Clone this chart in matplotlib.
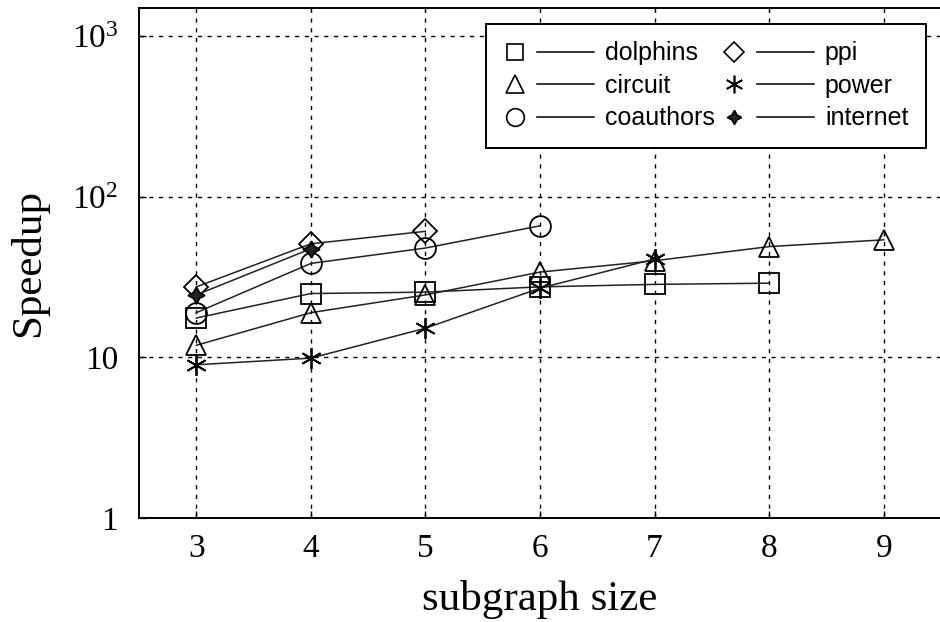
import matplotlib
matplotlib.use("Agg")
import matplotlib.pyplot as plt
from matplotlib.lines import Line2D
from matplotlib.legend_handler import HandlerBase
from matplotlib.ticker import FixedLocator, NullLocator

# ---- data ----
x_dolphins = [3, 4, 5, 6, 7, 8]
y_dolphins = [17.6, 25, 25.5, 27.5, 28.5, 29]
x_circuit = [3, 4, 5, 6, 7, 8, 9]
y_circuit = [11.9, 19, 24.5, 34, 40, 49, 54]
x_coauthors = [3, 4, 5, 6]
y_coauthors = [19, 38.5, 48, 66]
x_ppi = [3, 4, 5]
y_ppi = [27.5, 51, 61]
x_power = [3, 4, 5, 6, 7]
y_power = [9, 9.9, 15.2, 27, 41]
x_internet = [3, 4]
y_internet = [24.5, 47.5]

x_ticks = [3, 4, 5, 6, 7, 8, 9]
y_ticks = [1, 10, 100, 1000]
y_ticklabels = ["1", "10", r"$10^2$", r"$10^3$"]

plt.rcParams["font.family"] = ["Liberation Serif", "DejaVu Serif"]
plt.rcParams["mathtext.fontset"] = "custom"
plt.rcParams["mathtext.rm"] = "Liberation Serif"
plt.rcParams["mathtext.it"] = "Liberation Serif:italic"

fig = plt.figure(figsize=(9.4, 6.22), dpi=100)
ax = fig.add_axes([139 / 940, 1 - 518 / 622, 802 / 940, 510 / 622])

series = [
    ("dolphins", x_dolphins, y_dolphins, dict(marker="s", markersize=14)),
    ("circuit", x_circuit, y_circuit, dict(marker="^", markersize=15)),
    ("coauthors", x_coauthors, y_coauthors, dict(marker="o", markersize=15)),
    ("ppi", x_ppi, y_ppi, dict(marker="D", markersize=12)),
    ("power", x_power, y_power, dict(marker=(6, 2, 0), markersize=15)),
    ("internet", x_internet, y_internet, dict(marker=(4, 1, 0), markersize=12)),
]

handles = []
for name, xs, ys, mk in series:
    filled = name == "internet"
    ln, = ax.plot(xs, ys, color="#222222", linewidth=1.1,
                  markerfacecolor="#222222" if filled else "none",
                  markeredgecolor="black", markeredgewidth=1.3,
                  label=name, zorder=3, **mk)
    handles.append(ln)

ax.set_yscale("log")
ax.set_ylim(1, 1500)
ax.set_xlim(2.5, 9.5)
ax.yaxis.set_major_locator(FixedLocator(y_ticks))
ax.yaxis.set_minor_locator(NullLocator())
ax.set_yticks(y_ticks)
ax.set_yticklabels(y_ticklabels)
ax.set_xticks(x_ticks)
ax.set_xticklabels([str(v) for v in x_ticks])

ax.tick_params(axis="both", which="major", direction="in", length=5,
               width=1, labelsize=24)
ax.tick_params(axis="x", pad=11)
ax.tick_params(axis="y", pad=15)
ax.grid(True, which="major", color="black", linestyle=(0, (3, 4)),
        linewidth=1.0)
for s in ax.spines.values():
    s.set_linewidth(1.4)
    s.set_color("black")

ax.set_xlabel("subgraph size", fontsize=31, labelpad=12)
ax.set_ylabel("Speedup", fontsize=31)
ax.yaxis.set_label_coords(-0.113, 0.5)


class MarkerThenLine(HandlerBase):
    def create_artists(self, legend, orig_handle, xdescent, ydescent,
                       width, height, fontsize, trans):
        y = height / 2 - ydescent
        x0 = -xdescent
        m = Line2D([x0 + 0.12 * width], [y], linestyle="none",
                   marker=orig_handle.get_marker(),
                   markersize=orig_handle.get_markersize() * 0.85,
                   markerfacecolor=orig_handle.get_markerfacecolor(),
                   markeredgecolor="black",
                   markeredgewidth=1.2, transform=trans)
        l = Line2D([x0 + 0.37 * width, x0 + width], [y, y],
                   color="black", linewidth=1.1, transform=trans)
        return [m, l]


leg = ax.legend(handles=handles, labels=[h.get_label() for h in handles],
                handler_map={Line2D: MarkerThenLine()},
                ncol=2, loc="upper right", bbox_to_anchor=(0.981, 0.969),
                borderaxespad=0, frameon=True, fancybox=False,
                edgecolor="black", framealpha=1, handlelength=3.6,
                handletextpad=0.45, columnspacing=0.35, labelspacing=0.34,
                borderpad=0.7,
                prop={"family": ["Liberation Sans Narrow", "Liberation Sans"],
                      "size": 18})
leg.get_frame().set_linewidth(1.4)
leg.set_zorder(5)

fig.savefig("out.png", dpi=100)
